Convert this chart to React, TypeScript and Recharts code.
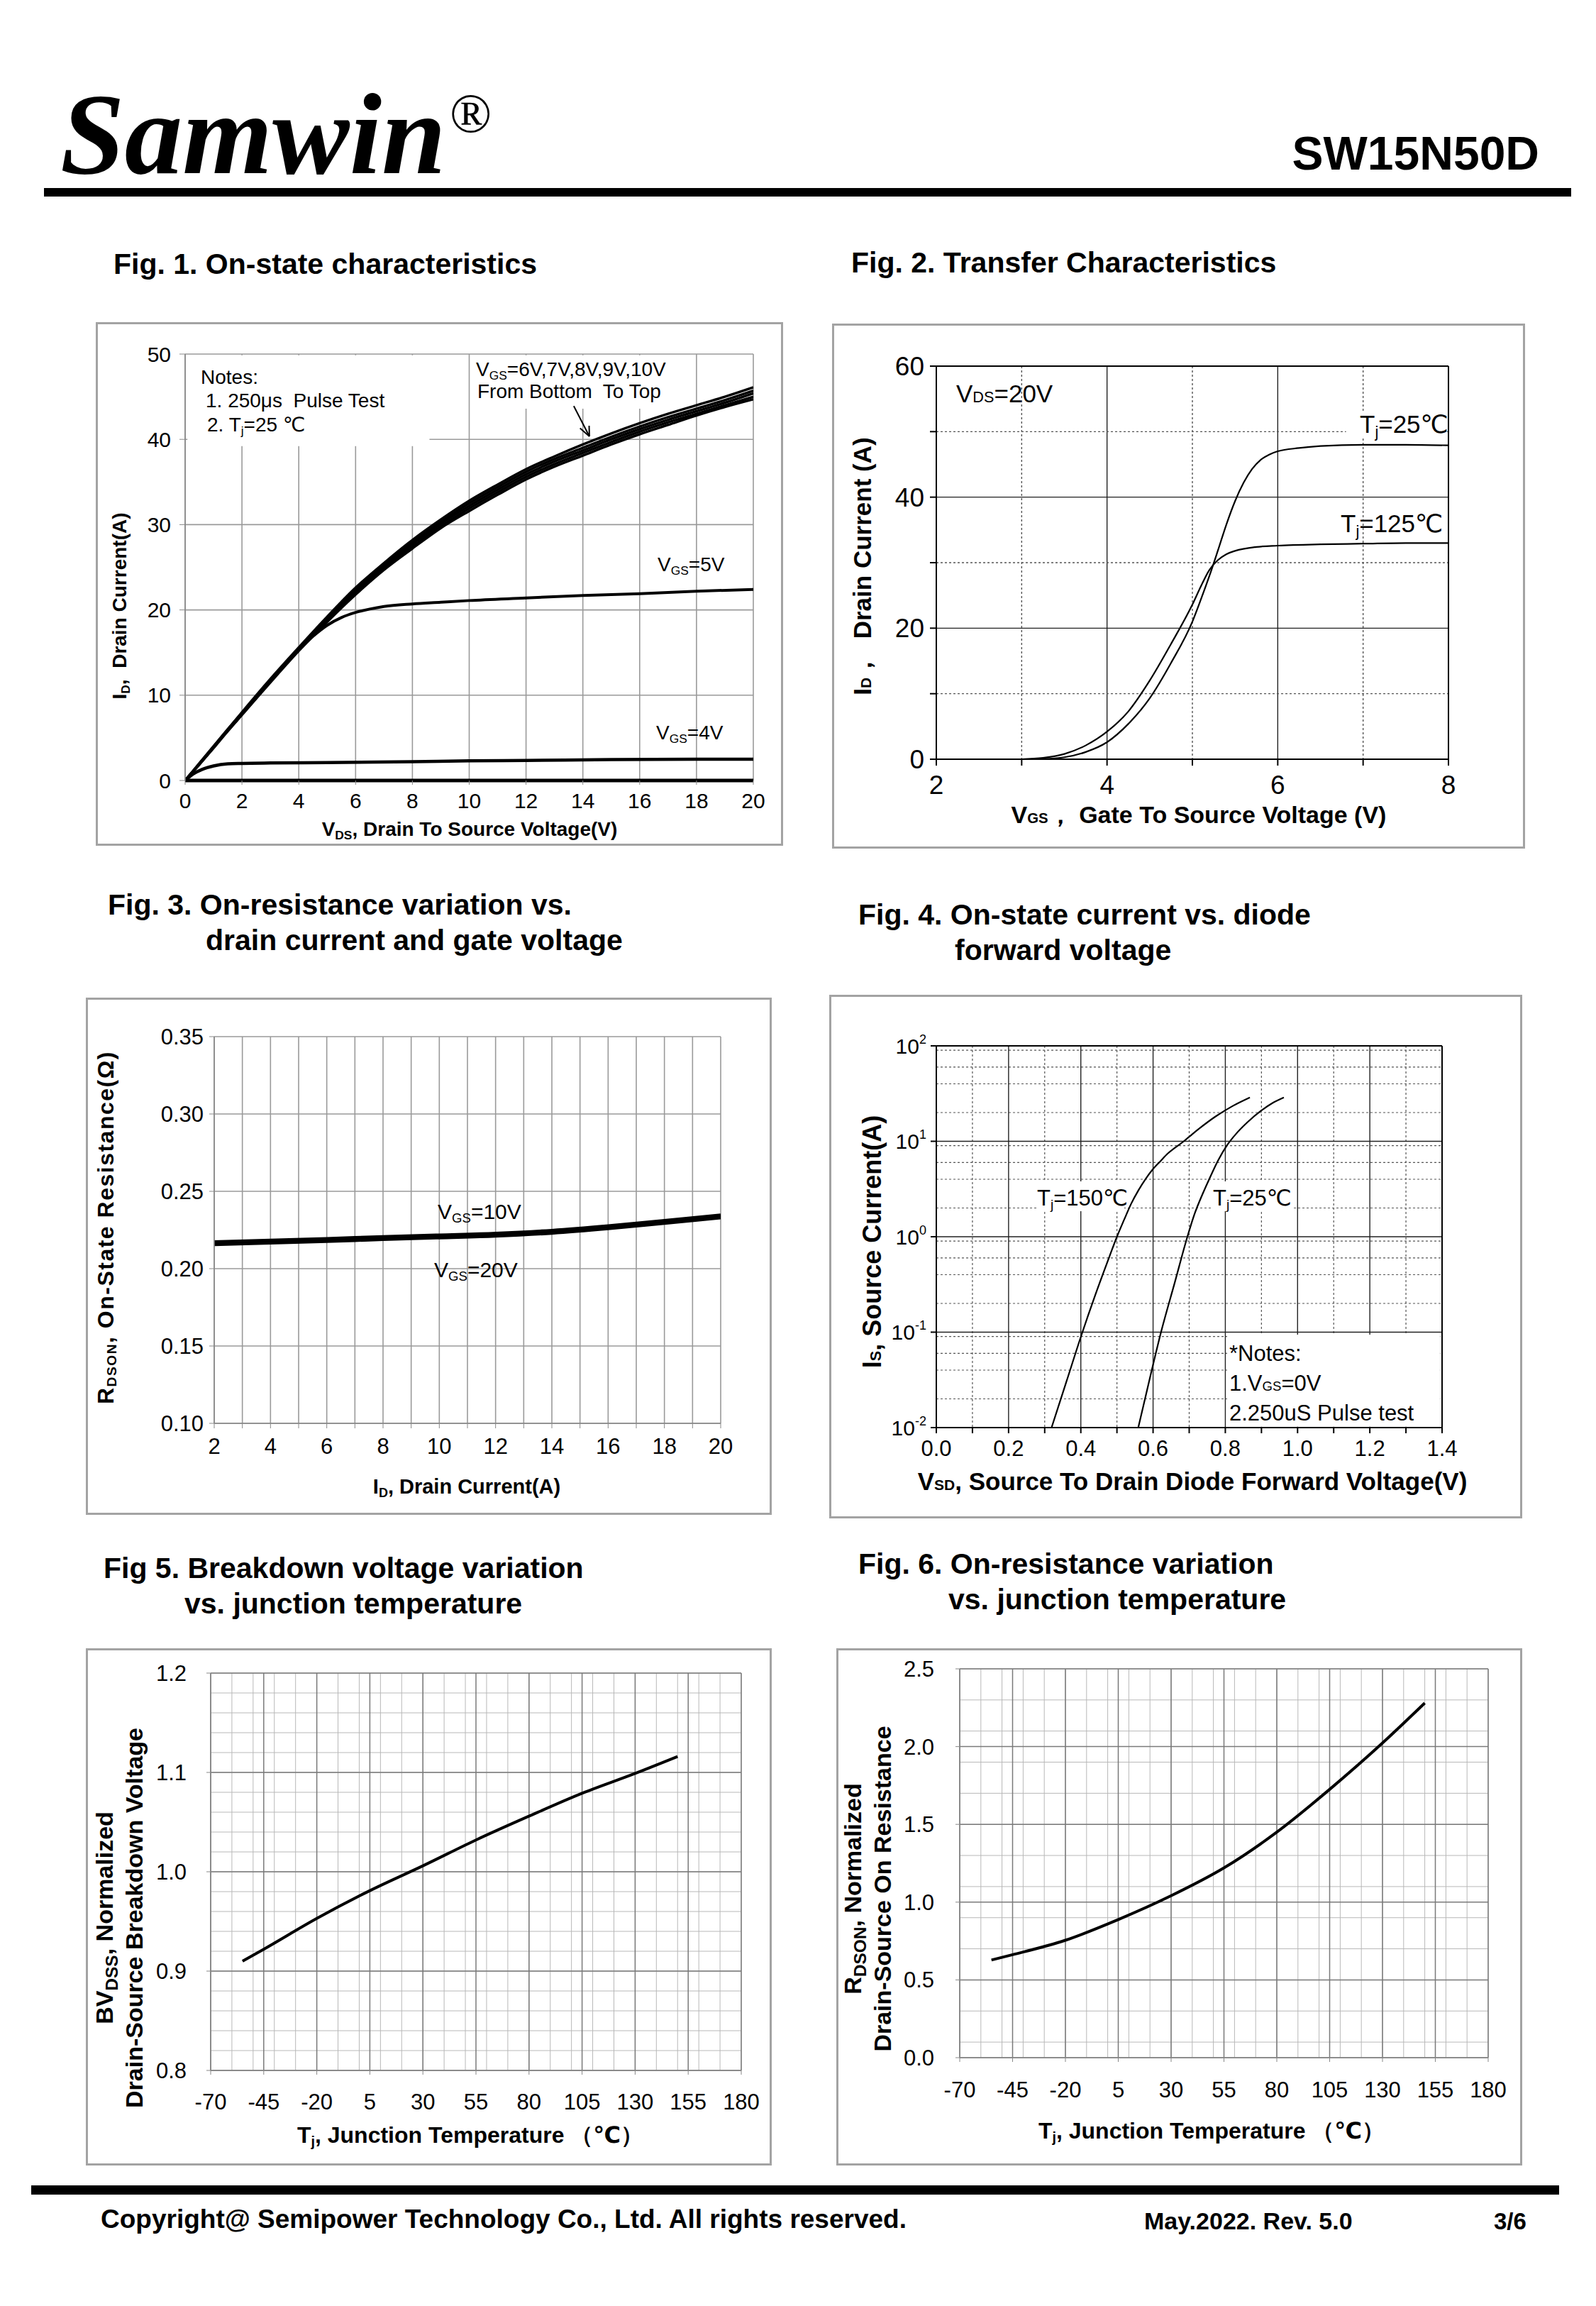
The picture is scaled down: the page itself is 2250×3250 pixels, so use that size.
import React from 'react';
import { LineChart, Line, XAxis, YAxis, CartesianGrid, ReferenceArea, ReferenceLine } from 'recharts';

// ---------------- data ----------------
// Fig 1: On-state characteristics (VDS in V, ID in A)
const f1Vds = [0, 0.5, 1, 1.5, 2, 3, 4, 5, 6, 7, 8, 9, 10, 11, 12, 13, 14, 15, 16, 17, 18, 19, 20];
const f1Vgs6 = [0, 1.9, 3.8, 5.8, 7.7, 11.5, 15.2, 18.6, 21.8, 24.7, 27.2, 29.6, 31.6, 33.5, 35.3, 36.8, 38.1, 39.4, 40.6, 41.7, 42.8, 43.8, 44.7];
const f1Vgs7 = [0, 1.9, 3.9, 5.8, 7.7, 11.6, 15.3, 18.7, 22.0, 24.9, 27.4, 29.8, 31.9, 33.8, 35.6, 37.1, 38.4, 39.7, 40.9, 42.0, 43.0, 44.0, 45.0];
const f1Vgs8 = [0, 1.9, 3.9, 5.9, 7.8, 11.7, 15.4, 18.9, 22.2, 25.1, 27.7, 30.1, 32.2, 34.1, 35.9, 37.4, 38.7, 40.0, 41.2, 42.3, 43.3, 44.3, 45.4];
const f1Vgs9 = [0, 2.0, 4.0, 6.0, 7.9, 11.8, 15.5, 19.0, 22.4, 25.3, 27.9, 30.3, 32.5, 34.4, 36.2, 37.7, 39.0, 40.3, 41.5, 42.6, 43.6, 44.6, 45.7];
const f1Vgs10 = [0, 2.0, 4.0, 6.0, 8.0, 11.9, 15.6, 19.2, 22.6, 25.5, 28.2, 30.6, 32.8, 34.7, 36.5, 38.0, 39.4, 40.7, 41.9, 43.0, 44.0, 45.0, 46.1];
const f1Vds5 = [0, 0.5, 1, 1.5, 2, 3, 4, 4.5, 5, 5.5, 6, 6.5, 7, 8, 9, 10, 12, 14, 16, 18, 20];
const f1Vgs5 = [0, 1.9, 3.9, 5.9, 7.8, 11.7, 15.3, 16.9, 18.2, 19.1, 19.7, 20.1, 20.4, 20.7, 20.9, 21.1, 21.4, 21.7, 21.9, 22.2, 22.4];
const f1Vds4 = [0, 0.3, 0.6, 1, 1.5, 2, 3, 5, 8, 10, 12, 15, 18, 20];
const f1Vgs4 = [0, 0.8, 1.3, 1.7, 1.95, 2.0, 2.05, 2.1, 2.2, 2.3, 2.35, 2.45, 2.5, 2.5];
const f1XTicks = [0, 2, 4, 6, 8, 10, 12, 14, 16, 18, 20];
const f1YTicks = [0, 10, 20, 30, 40, 50];

// Fig 2: Transfer characteristics (VGS in V, ID in A)
const f2Vgs25 = [3, 3.25, 3.5, 3.75, 4, 4.25, 4.5, 4.75, 5, 5.1, 5.2, 5.3, 5.4, 5.5, 5.6, 5.7, 5.8, 5.9, 6, 6.25, 6.5, 7, 7.5, 8];
const f2Id25 = [0, 0.05, 0.3, 1.1, 2.6, 5.4, 9.3, 14.7, 21.0, 24.4, 28.0, 31.9, 35.9, 39.4, 42.2, 44.3, 45.7, 46.5, 47.0, 47.5, 47.8, 48.0, 48.0, 47.9];
const f2Vgs125 = [3, 3.25, 3.5, 3.75, 4, 4.25, 4.5, 4.75, 5, 5.1, 5.2, 5.3, 5.4, 5.5, 5.75, 6, 6.5, 7, 7.5, 8];
const f2Id125 = [0, 0.2, 0.8, 2.1, 4.2, 7.3, 12.0, 17.6, 23.6, 26.4, 28.9, 30.4, 31.3, 31.8, 32.4, 32.6, 32.8, 32.9, 33.0, 33.0];
const f2XTicks = [2, 3, 4, 5, 6, 7, 8];
const f2YTicks = [0, 10, 20, 30, 40, 50, 60];

// Fig 3: RDSON vs ID
const f3Id = [2, 4, 6, 8, 10, 12, 14, 16, 18, 20];
const f3R10 = [0.2172, 0.2182, 0.2193, 0.2205, 0.2216, 0.2227, 0.2246, 0.2275, 0.231, 0.2345];
const f3R20 = [0.2157, 0.2167, 0.2178, 0.219, 0.2201, 0.2212, 0.2231, 0.226, 0.2295, 0.233];
const f3XTicks = [2, 3, 4, 5, 6, 7, 8, 9, 10, 11, 12, 13, 14, 15, 16, 17, 18, 19, 20];
const f3YTicks = [0.1, 0.15, 0.2, 0.25, 0.3, 0.35];

// Fig 4: body diode forward (VSD in V, IS in A, log)
const f4Vsd150 = [0.319, 0.36, 0.4, 0.44, 0.48, 0.5, 0.52, 0.54, 0.56, 0.58, 0.6, 0.62, 0.64, 0.66, 0.685, 0.71, 0.73, 0.773, 0.82, 0.868];
const f4Is150 = [0.01, 0.0302, 0.0891, 0.245, 0.631, 1.0, 1.51, 2.24, 3.09, 4.07, 5.13, 6.17, 7.41, 8.51, 10, 12.0, 13.8, 18.2, 23.4, 28.8];
const f4Vsd25 = [0.559, 0.59, 0.622, 0.66, 0.695, 0.715, 0.735, 0.755, 0.78, 0.805, 0.83, 0.861, 0.899, 0.93, 0.962];
const f4Is25 = [0.01, 0.0316, 0.1, 0.331, 1.0, 1.74, 2.69, 3.98, 6.31, 9.12, 12.0, 15.8, 20.9, 25.1, 28.8];
const f4XTicks = [0, 0.1, 0.2, 0.3, 0.4, 0.5, 0.6, 0.7, 0.8, 0.9, 1.0, 1.1, 1.2, 1.3, 1.4];
const f4YTicks = [0.01, 0.1, 1, 10, 100];

// Fig 5: BVDSS normalized vs Tj
const f5Tj = [-55, -45, -20, 5, 30, 55, 80, 105, 130, 150];
const f5Bv = [0.91, 0.922, 0.953, 0.981, 1.006, 1.032, 1.056, 1.079, 1.099, 1.116];
const f5XTicks = [-70, -45, -20, 5, 30, 55, 80, 105, 130, 155, 180];
const f5YTicks = [0.8, 0.9, 1.0, 1.1, 1.2];

// Fig 6: RDSON normalized vs Tj
const f6Tj = [-55, -45, -20, 5, 30, 55, 80, 105, 130, 150];
const f6R = [0.628, 0.662, 0.755, 0.888, 1.041, 1.22, 1.45, 1.725, 2.023, 2.28];
const f6XTicks = [-70, -45, -20, 5, 30, 55, 80, 105, 130, 155, 180];
const f6YTicks = [0, 0.5, 1.0, 1.5, 2.0, 2.5];

// ---------------- helpers ----------------
const SANS = "'Liberation Sans', Arial, 'DejaVu Sans', sans-serif";
const rows = (xs: number[], ys: number[]) => xs.map((x, i) => ({ x, y: ys[i] }));
const steps = (a: number, b: number, s: number) =>
  Array.from({ length: Math.round((b - a) / s) + 1 }, (_, i) => +(a + i * s).toFixed(5));

type R = { l: number; t: number; r: number; b: number };

const F1: R = { l: 135, t: 454, r: 1104, b: 1192 }, P1: R = { l: 261, t: 499, r: 1062, b: 1100 };
const F2: R = { l: 1173, t: 456, r: 2150, b: 1196 }, P2: R = { l: 1320, t: 516, r: 2042, b: 1070 };
const F3: R = { l: 121, t: 1406, r: 1088, b: 2135 }, P3: R = { l: 302, t: 1461, r: 1016, b: 2006 };
const F4: R = { l: 1169, t: 1402, r: 2146, b: 2140 }, P4: R = { l: 1320, t: 1474, r: 2033, b: 2012 };
const F5: R = { l: 121, t: 2323, r: 1088, b: 3052 }, P5: R = { l: 297, t: 2358, r: 1045, b: 2918 };
const F6: R = { l: 1179, t: 2323, r: 2146, b: 3052 }, P6: R = { l: 1353, t: 2352, r: 2098, b: 2900 };

function Frame({ F }: { F: R }) {
  return (
    <div
      style={{
        position: 'absolute', left: F.l, top: F.t, width: F.r - F.l, height: F.b - F.t,
        border: '3px solid #a3a3a3', boxSizing: 'border-box',
      }}
    />
  );
}

function Plot({ F, P, yW, xH, children }: { F: R; P: R; yW: number; xH: number; children: any }) {
  const w = F.r - F.l;
  const h = F.b - F.t;
  return (
    <div style={{ position: 'absolute', left: F.l, top: F.t, width: w, height: h }}>
      <LineChart
        width={w}
        height={h}
        margin={{ top: P.t - F.t, right: F.r - P.r, bottom: F.b - P.b - xH, left: P.l - F.l - yW }}
      >
        {children}
      </LineChart>
    </div>
  );
}

function Txt({ x, y, size, bold = false, anchor = 'start', children, style }: any) {
  const top = y - 0.8465 * size;
  const transform = anchor === 'middle' ? 'translateX(-50%)' : anchor === 'end' ? 'translateX(-100%)' : undefined;
  return (
    <div
      style={{
        position: 'absolute', left: x, top, fontSize: size, lineHeight: `${size}px`, fontFamily: SANS,
        fontWeight: bold ? 700 : 400, whiteSpace: 'nowrap', transform, color: '#000', ...style,
      }}
    >
      {children}
    </div>
  );
}

function VTxt({ cx, cy, size, children, lh, style }: any) {
  return (
    <div
      style={{
        position: 'absolute', left: cx, top: cy, transform: 'translate(-50%,-50%) rotate(-90deg)',
        fontSize: size, lineHeight: `${lh || size * 1.15}px`, fontFamily: SANS, fontWeight: 700,
        whiteSpace: 'nowrap', textAlign: 'center', color: '#000', ...style,
      }}
    >
      {children}
    </div>
  );
}

const Sub = ({ children, s = 0.62, drop = 0.28 }: any) => (
  <span style={{ fontSize: `${s}em`, position: 'relative', top: `${drop}em` }}>{children}</span>
);

const LogTick = (props: any) => {
  const { x, y, payload } = props;
  const exp = Math.round(Math.log10(payload.value));
  return (
    <text x={x} y={y} textAnchor="end" dy="0.35em" fontSize={30} fontFamily={SANS} fill="#000">
      <tspan>10</tspan>
      <tspan dy={-14} fontSize={18}>{exp}</tspan>
    </text>
  );
};

const tickStyle = (fs: number) => ({ fontSize: fs, fill: '#000', fontFamily: SANS });

export default function App() {
  return (
    <div style={{ position: 'absolute', left: 0, top: 0, width: 2250, height: 3250, background: '#fff', overflow: 'hidden' }}>
      {/* ---------- header ---------- */}
      <div
        style={{
          position: 'absolute', left: 85, top: 108, fontFamily: "'Liberation Serif', 'Times New Roman', serif",
          fontWeight: 700, fontStyle: 'italic', fontSize: 163, lineHeight: '163px', whiteSpace: 'nowrap',
        }}
      >
        Samwin
      </div>
      <div style={{ position: 'absolute', left: 634, top: 121, fontFamily: "'Liberation Serif', serif", fontSize: 78, lineHeight: '78px' }}>®</div>
      <Txt x={2170} y={239} size={66} bold anchor="end">SW15N50D</Txt>
      <div style={{ position: 'absolute', left: 62, top: 265, width: 2153, height: 12, background: '#000' }} />

      {/* ---------- figure titles ---------- */}
      <Txt x={160} y={387} size={41} bold>Fig. 1. On-state characteristics</Txt>
      <Txt x={1200} y={385} size={41} bold>Fig. 2. Transfer Characteristics</Txt>
      <Txt x={152} y={1290} size={41} bold>Fig. 3. On-resistance variation vs.</Txt>
      <Txt x={290} y={1340} size={41} bold>drain current and gate voltage</Txt>
      <Txt x={1210} y={1304} size={41} bold>Fig. 4. On-state current vs. diode</Txt>
      <Txt x={1346} y={1354} size={41} bold>forward voltage</Txt>
      <Txt x={146} y={2225} size={41} bold>Fig 5. Breakdown voltage variation</Txt>
      <Txt x={260} y={2275} size={41} bold>vs. junction temperature</Txt>
      <Txt x={1210} y={2219} size={41} bold>Fig. 6. On-resistance variation</Txt>
      <Txt x={1337} y={2269} size={41} bold>vs. junction temperature</Txt>

      {/* ---------- Fig 1 ---------- */}
      <Frame F={F1} />
      <Plot F={F1} P={P1} yW={90} xH={50}>
        <CartesianGrid stroke="#9a9a9a" strokeWidth={1.6} />
        <XAxis
          type="number" dataKey="x" domain={[0, 20]} ticks={f1XTicks} allowDataOverflow height={50}
          axisLine={{ stroke: '#000', strokeWidth: 5 }} tickLine={{ stroke: '#888' }} tickSize={6} tickMargin={12}
          tick={tickStyle(30)}
        />
        <YAxis
          type="number" domain={[0, 50]} ticks={f1YTicks} allowDataOverflow width={90}
          axisLine={{ stroke: '#888', strokeWidth: 1.6 }} tickLine={{ stroke: '#888' }} tickSize={8} tickMargin={12}
          tick={tickStyle(30)}
        />
        <ReferenceArea x1={0.08} x2={8.6} y1={39.2} y2={49.85} fill="#fff" fillOpacity={1} stroke="none" />
        <ReferenceArea x1={10.3} x2={17.3} y1={43.6} y2={49.85} fill="#fff" fillOpacity={1} stroke="none" />
        <ReferenceLine segment={[{ x: 13.68, y: 43.9 }, { x: 14.23, y: 40.35 }]} stroke="#000" strokeWidth={2} />
        <ReferenceLine segment={[{ x: 14.23, y: 40.35 }, { x: 14.22, y: 41.6 }]} stroke="#000" strokeWidth={2} />
        <ReferenceLine segment={[{ x: 14.23, y: 40.35 }, { x: 13.9, y: 41.3 }]} stroke="#000" strokeWidth={2} />
        <Line data={rows(f1Vds, f1Vgs6)} dataKey="y" type="monotone" stroke="#000" strokeWidth={3.5} dot={false} isAnimationActive={false} />
        <Line data={rows(f1Vds, f1Vgs7)} dataKey="y" type="monotone" stroke="#000" strokeWidth={3.5} dot={false} isAnimationActive={false} />
        <Line data={rows(f1Vds, f1Vgs8)} dataKey="y" type="monotone" stroke="#000" strokeWidth={3.5} dot={false} isAnimationActive={false} />
        <Line data={rows(f1Vds, f1Vgs9)} dataKey="y" type="monotone" stroke="#000" strokeWidth={3.5} dot={false} isAnimationActive={false} />
        <Line data={rows(f1Vds, f1Vgs10)} dataKey="y" type="monotone" stroke="#000" strokeWidth={3.5} dot={false} isAnimationActive={false} />
        <Line data={rows(f1Vds5, f1Vgs5)} dataKey="y" type="monotone" stroke="#000" strokeWidth={4} dot={false} isAnimationActive={false} />
        <Line data={rows(f1Vds4, f1Vgs4)} dataKey="y" type="monotone" stroke="#000" strokeWidth={4.5} dot={false} isAnimationActive={false} />
      </Plot>
      <Txt x={283} y={542} size={28}>Notes:</Txt>
      <Txt x={290} y={575} size={28}>1. 250μs&nbsp; Pulse Test</Txt>
      <Txt x={292} y={609} size={28}>2. T<Sub>j</Sub>=25 ℃</Txt>
      <Txt x={671} y={531} size={28}>V<Sub>GS</Sub>=6V,7V,8V,9V,10V</Txt>
      <Txt x={673} y={562} size={28}>From Bottom&nbsp; To Top</Txt>
      <Txt x={927} y={806} size={28}>V<Sub>GS</Sub>=5V</Txt>
      <Txt x={925} y={1043} size={28}>V<Sub>GS</Sub>=4V</Txt>
      <VTxt cx={171} cy={854} size={28}>I<Sub>D</Sub>,&nbsp; Drain Current(A)</VTxt>
      <Txt x={662} y={1179} size={28} bold anchor="middle">V<Sub>DS</Sub>, Drain To Source Voltage(V)</Txt>

      {/* ---------- Fig 2 ---------- */}
      <Frame F={F2} />
      <Plot F={F2} P={P2} yW={100} xH={60}>
        <CartesianGrid stroke="#222" strokeWidth={1.4} verticalValues={[4, 6]} horizontalValues={[20, 40]} />
        <CartesianGrid stroke="#555" strokeWidth={1.4} strokeDasharray="3 3" verticalValues={[3, 5, 7]} horizontalValues={[10, 30, 50]} />
        <XAxis
          type="number" dataKey="x" domain={[2, 8]} ticks={f2XTicks} allowDataOverflow height={60}
          axisLine={{ stroke: '#000', strokeWidth: 2 }} tickLine={{ stroke: '#000', strokeWidth: 2 }} tickSize={9} tickMargin={14}
          tickFormatter={(v: number) => (v % 2 === 0 ? String(v) : '')} tick={tickStyle(37)}
        />
        <YAxis
          type="number" domain={[0, 60]} ticks={f2YTicks} allowDataOverflow width={100}
          axisLine={{ stroke: '#000', strokeWidth: 2 }} tickLine={{ stroke: '#000', strokeWidth: 2 }} tickSize={9} tickMargin={8}
          tickFormatter={(v: number) => (v % 20 === 0 ? String(v) : '')} tick={tickStyle(37)}
        />
        <ReferenceLine y={60} stroke="#000" strokeWidth={2} />
        <ReferenceLine x={8} stroke="#000" strokeWidth={2} />
        <ReferenceArea x1={6.8} x2={7.9} y1={49} y2={53} fill="#fff" fillOpacity={1} stroke="none" />
        <Line data={rows(f2Vgs25, f2Id25)} dataKey="y" type="monotone" stroke="#000" strokeWidth={2.2} dot={false} isAnimationActive={false} />
        <Line data={rows(f2Vgs125, f2Id125)} dataKey="y" type="monotone" stroke="#000" strokeWidth={2.2} dot={false} isAnimationActive={false} />
      </Plot>
      <Txt x={1348} y={567} size={35}>V<Sub s={0.62} drop={0}>DS</Sub>=20V</Txt>
      <Txt x={1917} y={610} size={35}>T<Sub>j</Sub>=25℃</Txt>
      <Txt x={1890} y={750} size={35}>T<Sub>j</Sub>=125℃</Txt>
      <VTxt cx={1219} cy={798} size={35}>I<Sub s={0.6} drop={0}>D</Sub>，&nbsp; Drain Current (A)</VTxt>
      <Txt x={1690} y={1160} size={34} bold anchor="middle">V<Sub s={0.6} drop={0}>GS</Sub>，&nbsp;Gate To Source Voltage (V)</Txt>

      {/* ---------- Fig 3 ---------- */}
      <Frame F={F3} />
      <Plot F={F3} P={P3} yW={110} xH={60}>
        <CartesianGrid stroke="#9a9a9a" strokeWidth={1.6} />
        <XAxis
          type="number" dataKey="x" domain={[2, 20]} ticks={f3XTicks} allowDataOverflow height={60}
          axisLine={{ stroke: '#888', strokeWidth: 1.6 }} tickLine={{ stroke: '#888' }} tickSize={7} tickMargin={14}
          tickFormatter={(v: number) => (v % 2 === 0 ? String(v) : '')} tick={tickStyle(31)}
        />
        <YAxis
          type="number" domain={[0.1, 0.35]} ticks={f3YTicks} allowDataOverflow width={110}
          axisLine={{ stroke: '#888', strokeWidth: 1.6 }} tickLine={{ stroke: '#888' }} tickSize={7} tickMargin={8}
          tickFormatter={(v: number) => v.toFixed(2)} tick={tickStyle(31)}
        />
        <Line data={rows(f3Id, f3R10)} dataKey="y" type="monotone" stroke="#000" strokeWidth={5} dot={false} isAnimationActive={false} />
        <Line data={rows(f3Id, f3R20)} dataKey="y" type="monotone" stroke="#000" strokeWidth={5} dot={false} isAnimationActive={false} />
      </Plot>
      <Txt x={617} y={1718} size={30}>V<Sub>GS</Sub>=10V</Txt>
      <Txt x={612} y={1800} size={30}>V<Sub>GS</Sub>=20V</Txt>
      <VTxt cx={152} cy={1730} size={32} style={{ letterSpacing: 1.5 }}>R<Sub s={0.6} drop={0.2}>DSON</Sub>, On-State Resistance(Ω)</VTxt>
      <Txt x={658} y={2106} size={29} bold anchor="middle">I<Sub>D</Sub>, Drain Current(A)</Txt>

      {/* ---------- Fig 4 ---------- */}
      <Frame F={F4} />
      <Plot F={F4} P={P4} yW={100} xH={60}>
        <CartesianGrid
          stroke="#555" strokeWidth={1.2} strokeDasharray="3 3"
          verticalValues={[0.1, 0.3, 0.5, 0.7, 0.9, 1.1, 1.3]}
          horizontalValues={[0.02, 0.03, 0.04, 0.05, 0.06, 0.07, 0.08, 0.09, 0.2, 0.3, 0.4, 0.5, 0.6, 0.7, 0.8, 0.9, 2, 3, 4, 5, 6, 7, 8, 9, 20, 30, 40, 50, 60, 70, 80, 90]}
        />
        <CartesianGrid stroke="#222" strokeWidth={1.4} verticalValues={[0.2, 0.4, 0.6, 0.8, 1.0, 1.2]} horizontalValues={[0.1, 1, 10]} />
        <XAxis
          type="number" dataKey="x" domain={[0, 1.4]} ticks={f4XTicks} allowDataOverflow height={60}
          axisLine={{ stroke: '#000', strokeWidth: 2 }} tickLine={{ stroke: '#000', strokeWidth: 2 }} tickSize={8} tickMargin={10}
          tickFormatter={(v: number) => (Math.round(v * 10) % 2 === 0 ? v.toFixed(1) : '')} tick={tickStyle(31)}
        />
        <YAxis
          type="number" scale="log" domain={[0.01, 100]} ticks={f4YTicks} allowDataOverflow width={100}
          axisLine={{ stroke: '#000', strokeWidth: 2 }} tickLine={{ stroke: '#000', strokeWidth: 2 }} tickSize={8} tickMargin={6}
          tick={<LogTick />}
        />
        <ReferenceLine y={100} stroke="#000" strokeWidth={2} />
        <ReferenceLine x={1.4} stroke="#000" strokeWidth={2} />
        <ReferenceArea x1={0.28} x2={0.52} y1={1.85} y2={3.8} fill="#fff" fillOpacity={1} stroke="none" />
        <ReferenceArea x1={0.765} x2={0.99} y1={1.85} y2={3.8} fill="#fff" fillOpacity={1} stroke="none" />
        <ReferenceArea x1={0.805} x2={1.395} y1={0.0102} y2={0.094} fill="#fff" fillOpacity={1} stroke="none" />
        <Line data={rows(f4Vsd150, f4Is150)} dataKey="y" type="monotone" stroke="#000" strokeWidth={2.2} dot={false} isAnimationActive={false} />
        <Line data={rows(f4Vsd25, f4Is25)} dataKey="y" type="monotone" stroke="#000" strokeWidth={2.2} dot={false} isAnimationActive={false} />
      </Plot>
      <Txt x={1462} y={1699} size={31}>T<Sub>j</Sub>=150℃</Txt>
      <Txt x={1710} y={1699} size={31}>T<Sub>j</Sub>=25℃</Txt>
      <Txt x={1733} y={1918} size={31}>*Notes:</Txt>
      <Txt x={1733} y={1960} size={31}>1.V<Sub s={0.6} drop={0}>GS</Sub>=0V</Txt>
      <Txt x={1733} y={2002} size={31}>2.250uS Pulse test</Txt>
      <VTxt cx={1232} cy={1750} size={36}>I<Sub s={0.6} drop={0}>S</Sub>, Source Current(A)</VTxt>
      <Txt x={1681} y={2100} size={35} bold anchor="middle">V<Sub s={0.6} drop={0}>SD</Sub>, Source To Drain Diode Forward Voltage(V)</Txt>

      {/* ---------- Fig 5 ---------- */}
      <Frame F={F5} />
      <Plot F={F5} P={P5} yW={100} xH={60}>
        <CartesianGrid stroke="#b8b8b8" strokeWidth={1} verticalValues={steps(-70, 180, 5)} horizontalValues={steps(0.8, 1.2, 0.02)} />
        <CartesianGrid stroke="#7a7a7a" strokeWidth={1.5} />
        <XAxis
          type="number" dataKey="x" domain={[-70, 180]} ticks={f5XTicks} allowDataOverflow height={60}
          axisLine={{ stroke: '#888', strokeWidth: 1.5 }} tickLine={{ stroke: '#888' }} tickSize={6} tickMargin={27}
          tick={tickStyle(31)}
        />
        <YAxis
          type="number" domain={[0.8, 1.2]} ticks={f5YTicks} allowDataOverflow width={100}
          axisLine={{ stroke: '#888', strokeWidth: 1.5 }} tickLine={{ stroke: '#888' }} tickSize={6} tickMargin={28}
          tickFormatter={(v: number) => v.toFixed(1)} tick={tickStyle(31)}
        />
        <Line data={rows(f5Tj, f5Bv)} dataKey="y" type="monotone" stroke="#000" strokeWidth={4} dot={false} isAnimationActive={false} />
      </Plot>
      <VTxt cx={168} cy={2703} size={34} lh={38}>
        <div>BV<Sub s={0.72}>DSS</Sub>, Normalized</div>
        <div>Drain-Source Breakdown Voltage</div>
      </VTxt>
      <Txt x={663} y={3020} size={32} bold anchor="middle">T<Sub>j</Sub>, Junction Temperature （℃）</Txt>

      {/* ---------- Fig 6 ---------- */}
      <Frame F={F6} />
      <Plot F={F6} P={P6} yW={100} xH={60}>
        <CartesianGrid stroke="#b8b8b8" strokeWidth={1} verticalValues={steps(-70, 180, 5)} horizontalValues={steps(0, 2.5, 0.1)} />
        <CartesianGrid stroke="#7a7a7a" strokeWidth={1.5} />
        <XAxis
          type="number" dataKey="x" domain={[-70, 180]} ticks={f6XTicks} allowDataOverflow height={60}
          axisLine={{ stroke: '#888', strokeWidth: 1.5 }} tickLine={{ stroke: '#888' }} tickSize={6} tickMargin={28}
          tick={tickStyle(31)}
        />
        <YAxis
          type="number" domain={[0, 2.5]} ticks={f6YTicks} allowDataOverflow width={100}
          axisLine={{ stroke: '#888', strokeWidth: 1.5 }} tickLine={{ stroke: '#888' }} tickSize={6} tickMargin={30}
          tickFormatter={(v: number) => v.toFixed(1)} tick={tickStyle(31)}
        />
        <Line data={rows(f6Tj, f6R)} dataKey="y" type="monotone" stroke="#000" strokeWidth={4} dot={false} isAnimationActive={false} />
      </Plot>
      <VTxt cx={1223} cy={2662} size={34} lh={38}>
        <div>R<Sub s={0.72}>DSON</Sub>, Normalized</div>
        <div>Drain-Source On Resistance</div>
      </VTxt>
      <Txt x={1708} y={3014} size={32} bold anchor="middle">T<Sub>j</Sub>, Junction Temperature （℃）</Txt>

      {/* ---------- footer ---------- */}
      <div style={{ position: 'absolute', left: 44, top: 3080, width: 2154, height: 13, background: '#000' }} />
      <Txt x={142} y={3140} size={37} bold>Copyright@ Semipower Technology Co., Ltd. All rights reserved.</Txt>
      <Txt x={1613} y={3142} size={34} bold>May.2022. Rev. 5.0</Txt>
      <Txt x={2106} y={3142} size={33} bold>3/6</Txt>
    </div>
  );
}
